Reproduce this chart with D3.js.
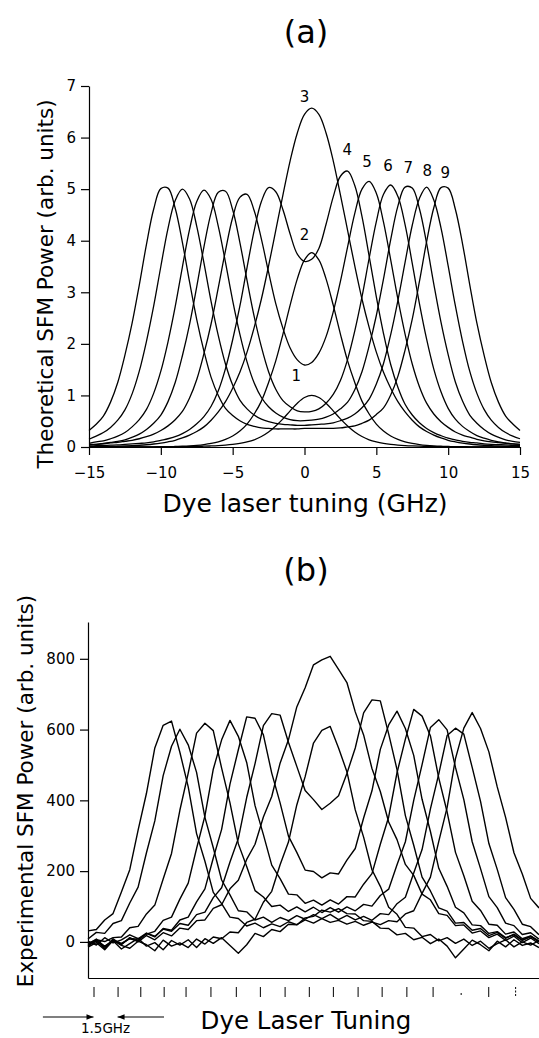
<!DOCTYPE html>
<html><head><meta charset="utf-8">
<script src="https://cdn.jsdelivr.net/npm/d3@7"></script>
<style>
body{margin:0;background:#fff}
svg{display:block}
text{font-family:"DejaVu Sans",sans-serif;fill:#000}
</style>
</head><body>
<svg id="c" width="539" height="1038"></svg>
<script>
// ---------- Panel (a): theoretical curves ----------
const gridA = [-15,-14.5,-14,-13.5,-13,-12.5,-12,-11.5,-11,-10.5,-10,-9.5,-9,-8.5,-8,-7.5,-7,-6.5,-6,-5.5,-5,-4.5,-4,-3.5,-3,-2.5,-2,-1.5,-1,-0.5,0,0.5,1,1.5,2,2.5,3,3.5,4,4.5,5,5.5,6,6.5,7,7.5,8,8.5,9,9.5,10,10.5,11,11.5,12,12.5,13,13.5,14,14.5,15];
const curve1 = [0.001,0.001,0.002,0.002,0.002,0.003,0.003,0.003,0.003,0.004,0.004,0.005,0.006,0.007,0.009,0.012,0.016,0.021,0.028,0.038,0.052,0.072,0.10,0.14,0.203,0.29,0.407,0.545,0.70,0.849,0.959,1.0,0.959,0.849,0.70,0.545,0.407,0.29,0.203,0.14,0.10,0.072,0.052,0.038,0.028,0.021,0.016,0.012,0.009,0.007,0.006,0.005,0.004,0.004,0.003,0.003,0.003,0.002,0.002,0.002,0.001];
const curve2 = [0.001,0.001,0.001,0.001,0.001,0.001,0.001,0.002,0.003,0.004,0.005,0.007,0.01,0.015,0.022,0.032,0.047,0.069,0.10,0.146,0.214,0.31,0.445,0.64,0.89,1.25,1.67,2.19,2.75,3.26,3.63,3.77,3.63,3.26,2.75,2.19,1.67,1.25,0.89,0.64,0.445,0.31,0.214,0.146,0.10,0.069,0.047,0.032,0.022,0.015,0.01,0.007,0.005,0.004,0.003,0.002,0.001,0.001,0.001,0.001,0.001];
const curve3 = [0.005,0.0066,0.0085,0.011,0.015,0.02,0.026,0.034,0.044,0.058,0.076,0.10,0.13,0.175,0.23,0.30,0.39,0.52,0.68,0.88,1.14,1.45,1.84,2.32,2.87,3.51,4.20,4.89,5.55,6.09,6.45,6.57,6.45,6.09,5.55,4.89,4.20,3.51,2.87,2.32,1.84,1.45,1.14,0.88,0.68,0.52,0.39,0.30,0.23,0.175,0.13,0.10,0.076,0.058,0.044,0.034,0.026,0.02,0.015,0.011,0.0085];
const curve4 = [0.02,0.025,0.03,0.035,0.04,0.05,0.06,0.07,0.08,0.10,0.13,0.16,0.20,0.26,0.34,0.45,0.59,0.79,1.09,1.52,2.08,2.73,3.48,4.20,4.76,5.03,4.95,4.60,4.13,3.74,3.60,3.64,3.85,4.32,4.85,5.25,5.35,5.07,4.47,3.70,2.91,2.20,1.60,1.16,0.83,0.62,0.47,0.36,0.28,0.22,0.17,0.14,0.11,0.09,0.08,0.06,0.05,0.045,0.04,0.03,0.03];
const curve5 = [0.05,0.05,0.06,0.08,0.09,0.11,0.13,0.16,0.20,0.25,0.32,0.41,0.53,0.69,0.95,1.31,1.81,2.39,3.09,3.81,4.45,4.84,4.90,4.58,4.03,3.39,2.78,2.30,1.92,1.69,1.59,1.64,1.82,2.14,2.62,3.21,3.88,4.53,5.00,5.15,4.92,4.36,3.63,2.87,2.19,1.61,1.17,0.85,0.64,0.49,0.38,0.29,0.23,0.19,0.15,0.12,0.10,0.085,0.07,0.06,0.05];
const curve6 = [0.04,0.05,0.07,0.09,0.11,0.14,0.19,0.25,0.34,0.46,0.62,0.88,1.25,1.77,2.38,3.11,3.88,4.54,4.94,4.96,4.60,3.97,3.23,2.53,1.94,1.46,1.12,0.90,0.78,0.70,0.68,0.69,0.74,0.85,1.02,1.29,1.70,2.25,2.91,3.66,4.37,4.90,5.08,4.86,4.31,3.56,2.78,2.09,1.51,1.07,0.75,0.54,0.40,0.30,0.22,0.17,0.13,0.10,0.08,0.06,0.05];
const curve7 = [0.07,0.10,0.12,0.16,0.21,0.28,0.39,0.53,0.73,1.04,1.47,2.04,2.72,3.49,4.22,4.76,4.98,4.80,4.28,3.58,2.84,2.19,1.65,1.24,0.96,0.78,0.66,0.58,0.53,0.51,0.51,0.52,0.54,0.58,0.64,0.74,0.87,1.11,1.46,1.96,2.55,3.26,4.02,4.67,5.04,5.02,4.62,3.95,3.16,2.42,1.79,1.26,0.89,0.62,0.46,0.34,0.25,0.19,0.14,0.11,0.09];
const curve8 = [0.15,0.21,0.28,0.38,0.52,0.72,1.03,1.47,2.05,2.73,3.50,4.24,4.78,5.00,4.81,4.28,3.57,2.82,2.16,1.61,1.20,0.91,0.74,0.62,0.54,0.49,0.46,0.44,0.43,0.42,0.42,0.43,0.44,0.45,0.47,0.51,0.56,0.64,0.76,0.93,1.22,1.62,2.18,2.84,3.58,4.30,4.82,5.04,4.79,4.25,3.51,2.74,2.05,1.47,1.04,0.73,0.52,0.38,0.28,0.21,0.16];
const curve9 = [0.32,0.44,0.60,0.87,1.25,1.78,2.40,3.14,3.93,4.61,5.01,5.02,4.63,3.97,3.20,2.47,1.86,1.35,1.00,0.75,0.61,0.51,0.44,0.40,0.37,0.36,0.35,0.35,0.35,0.35,0.36,0.36,0.36,0.36,0.36,0.37,0.39,0.41,0.46,0.52,0.63,0.76,1.01,1.37,1.88,2.48,3.21,3.98,4.64,5.03,5.02,4.61,3.94,3.15,2.40,1.78,1.25,0.87,0.60,0.445,0.32];
const curveLabels = ["1","2","3","4","5","6","7","8","9"];
const labelX = [-0.58,0.0,0.0,2.97,4.36,5.82,7.22,8.54,9.79];
const labelY = [1.39,4.11,6.79,5.76,5.53,5.45,5.41,5.35,5.33];
const ticksXA = [-15,-10,-5,0,5,10,15];
const ticksYA = [0,1,2,3,4,5,6,7];

// ---------- Panel (b): experimental traces ----------
const gridB = [0,0.5,1,1.5,2,2.5,3,3.5,4,4.5,5,5.5,6,6.5,7,7.5,8,8.5,9,9.5,10,10.5,11,11.5,12,12.5,13,13.5,14,14.5,15,15.5,16,16.5,17,17.5,18,18.5,19,19.5,20,20.5,21,21.5,22,22.5,23,23.5,24,24.5,25,25.5,26,26.5,27];
const trace1 = [-6,8,-14,3,-20,-5,10,-12,-2,-22,4,-9,6,-16,9,-4,12,-10,-32,-8,24,15,35,29,50,48,68,72,90,84,94,80,79,60,58,39,38,20,24,6,13,-5,8,-12,-45,-20,5,-8,-25,2,-14,6,-10,-3,-16];
const trace2 = [-15,-2,-22,4,-10,-18,2,-8,-25,5,-12,-3,-16,8,-6,14,9,28,26,55,64,112,143,218,282,387,467,562,598,609,548,481,373,296,204,157,98,78,41,39,15,21,3,12,-4,8,-10,2,-18,-5,6,-14,0,-9,4];
const trace3 = [-12,5,-20,9,-8,12,0,18,6,26,17,39,35,60,62,95,105,150,174,233,276,353,411,505,571,664,718,783,797,807,770,733,650,585,490,425,339,289,219,188,135,119,80,75,46,48,25,31,12,22,4,16,-2,11,-5];
const trace4 = [2,-9,12,-3,6,20,9,25,16,36,30,52,47,77,84,125,153,226,292,408,504,611,645,641,564,496,428,402,374,392,413,476,548,647,684,681,588,487,357,273,183,144,96,87,53,55,33,38,18,27,10,22,5,16,2];
const trace5 = [-10,2,-15,6,-4,9,3,24,14,38,33,62,70,113,150,237,318,446,543,636,632,585,477,393,299,253,203,199,181,195,192,231,264,350,427,544,613,652,603,527,403,312,208,157,98,82,48,46,24,29,12,20,4,15,0];
const trace6 = [-8,3,-12,4,-6,10,8,22,30,61,70,121,166,264,356,488,571,626,581,507,385,303,217,179,135,133,109,118,104,119,107,128,127,163,193,276,353,478,573,657,638,582,463,367,253,187,115,89,50,47,22,28,9,17,2];
const trace7 = [-4,6,1,12,14,40,44,79,104,178,250,372,477,590,618,597,491,393,277,213,145,127,100,104,86,99,85,98,83,97,84,99,88,106,101,131,149,218,283,400,501,606,628,599,493,402,283,207,128,97,53,46,21,26,8];
const trace8 = [8,27,24,52,60,110,155,252,342,470,553,601,557,479,352,266,175,133,88,85,62,70,55,69,60,74,64,77,66,78,63,75,62,72,61,80,77,108,126,195,261,376,475,583,604,587,493,397,278,205,125,92,50,43,20];
const trace9 = [31,35,62,80,141,204,316,420,548,612,624,536,438,306,228,140,108,70,66,45,53,40,51,43,57,49,62,53,66,55,61,50,58,47,56,49,60,57,79,88,137,183,284,380,518,604,648,603,537,438,352,252,192,123,96];
const ticksYB = [0,200,400,600,800];
const tickMarksB = [0.33,1.77,3.13,4.53,5.84,7.33,8.85,10.29,11.77,13.22,14.66,16.14,17.58,19.06,20.63,22.31,23.96,25.57];
const arrowTails = [-2.7,4.55];

const svg = d3.select("#c");

// ===== Panel (a) =====
const xA = d3.scaleLinear().domain([-15,15]).range([89,520]);
const yA = d3.scaleLinear().domain([0,7]).range([447,86]);
const gA = svg.append("g");
const lineA = d3.line().x((d,i)=>xA(gridA[i])).y(d=>yA(d)).curve(d3.curveCatmullRom.alpha(0.5));
[curve1,curve2,curve3,curve4,curve5,curve6,curve7,curve8,curve9].forEach(c=>{
  gA.append("path").attr("d",lineA(c)).attr("fill","none").attr("stroke","#000").attr("stroke-width",1.3);
});
const axYA = gA.append("g").attr("transform",`translate(${xA(-15)},0)`)
  .call(d3.axisLeft(yA).tickValues(ticksYA).tickSize(8).tickSizeOuter(0).tickPadding(5).tickFormat(d3.format("d")));
const axXA = gA.append("g").attr("transform",`translate(0,${yA(0)})`)
  .call(d3.axisBottom(xA).tickValues(ticksXA).tickSize(8).tickSizeOuter(0).tickPadding(12).tickFormat(d3.format("d")));
[axYA,axXA].forEach(a=>{
  a.selectAll("path,line").attr("stroke","#000").attr("stroke-width",1.2);
  a.selectAll("text").attr("font-size",15).attr("font-family","DejaVu Sans").attr("fill","#000");
});
gA.selectAll("text.cl").data(curveLabels).enter().append("text")
  .attr("class","cl").attr("x",(d,i)=>xA(labelX[i])).attr("y",(d,i)=>yA(labelY[i]))
  .attr("dy","0.36em").attr("text-anchor","middle").attr("font-size",15).text(d=>d);
svg.append("text").attr("x",306).attr("y",43).attr("text-anchor","middle").attr("font-size",32).text("(a)");
svg.append("text").attr("x",305).attr("y",512).attr("text-anchor","middle").attr("font-size",25).text("Dye laser tuning (GHz)");
svg.append("text").attr("transform","translate(53,284) rotate(-90)").attr("text-anchor","middle").attr("font-size",21.5).text("Theoretical SFM Power (arb. units)");

// ===== Panel (b) =====
const xB = d3.scaleLinear().domain([0,27]).range([88,539]);
const yB = d3.scaleLinear().domain([-102,904]).range([978,622]);
const gB = svg.append("g");
const lineB = d3.line().x((d,i)=>xB(gridB[i])).y(d=>yB(d)).curve(d3.curveLinear);
[trace1,trace2,trace3,trace4,trace5,trace6,trace7,trace8,trace9].forEach(t=>{
  gB.append("path").attr("d",lineB(t)).attr("fill","none").attr("stroke","#000")
    .attr("stroke-width",1.4).attr("stroke-linejoin","round");
});
const axYB = gB.append("g").attr("transform",`translate(${xB(0)},0)`)
  .call(d3.axisLeft(yB).tickValues(ticksYB).tickSize(8).tickSizeOuter(0).tickPadding(5).tickFormat(d3.format("d")));
const axXB = gB.append("g").attr("transform",`translate(0,${yB(-102)})`)
  .call(d3.axisBottom(xB).tickValues([]).tickSizeOuter(0));
[axYB,axXB].forEach(a=>{
  a.selectAll("path,line").attr("stroke","#000").attr("stroke-width",1.2);
  a.selectAll("text").attr("font-size",15).attr("font-family","DejaVu Sans").attr("fill","#000");
});
const tm = gB.append("g").attr("transform","translate(0,987)")
  .call(d3.axisBottom(xB).tickValues(tickMarksB).tickSize(10).tickFormat(()=>""));
tm.select(".domain").remove();
tm.selectAll("line").attr("stroke","#000").attr("stroke-width",1);
tm.selectAll(".tick").filter((d,i)=>i===15).select("line").attr("y1",6).attr("y2",8);
tm.selectAll(".tick").filter((d,i)=>i===17).select("line").attr("stroke-dasharray","2,1.5");

// arrows showing 1.5 GHz
const defs = svg.append("defs");
defs.append("marker").attr("id","ah").attr("viewBox","0 0 10 10").attr("refX",10).attr("refY",5)
  .attr("markerWidth",9).attr("markerHeight",7).attr("markerUnits","userSpaceOnUse").attr("orient","auto")
  .append("path").attr("d","M0,1 L10,5 L0,9 Z").attr("fill","#000");
[0,1].forEach(i=>{
  gB.append("line").attr("x1",xB(arrowTails[i])).attr("x2",xB(tickMarksB[i])).attr("y1",1017).attr("y2",1017)
    .attr("stroke","#000").attr("stroke-width",1.2).attr("marker-end","url(#ah)");
});
svg.append("text").attr("x",(xB(tickMarksB[0])+xB(tickMarksB[1]))/2).attr("y",1033).attr("text-anchor","middle")
  .attr("font-size",13.5).text("1.5GHz");
svg.append("text").attr("x",306).attr("y",581).attr("text-anchor","middle").attr("font-size",32).text("(b)");
svg.append("text").attr("x",306).attr("y",1029).attr("text-anchor","middle").attr("font-size",24.5).text("Dye Laser Tuning");
svg.append("text").attr("transform","translate(33,791) rotate(-90)").attr("text-anchor","middle").attr("font-size",21.5).text("Experimental SFM Power (arb. units)");
</script>
</body></html>
